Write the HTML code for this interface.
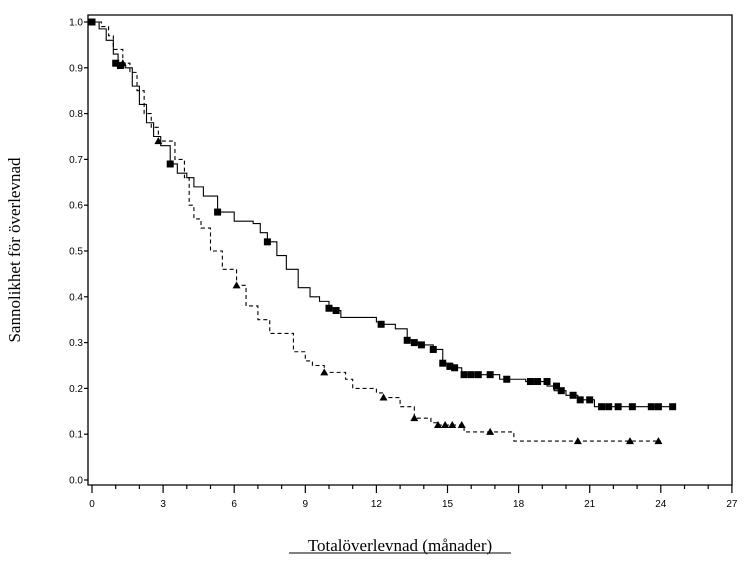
<!DOCTYPE html>
<html><head><meta charset="utf-8"><style>
body{margin:0;background:#fff}
</style></head><body>
<svg width="746" height="557" xmlns="http://www.w3.org/2000/svg" font-family="Liberation Sans, sans-serif">
<rect width="746" height="557" fill="#fff"/>
<g id="ax" stroke="#000" stroke-width="1.3" fill="none">
<path d="M88,15 H732 V485 H88 Z"/>
</g>
<g id="ticks" stroke="#000" stroke-width="1.2"></g>
<g id="lbl" font-size="10" fill="#000"></g>
<g id="curves"></g>
<text x="400" y="551" text-anchor="middle" font-family="Liberation Serif, serif" font-size="17">Totalöverlevnad (månader)</text>
<line x1="289" y1="553" x2="511" y2="553" stroke="#000" stroke-width="1"/>
<text transform="translate(20,250) rotate(-90)" text-anchor="middle" font-family="Liberation Serif, serif" font-size="17">Sannolikhet för överlevnad</text>
</svg>
<script>
var NS="http://www.w3.org/2000/svg";
function X(m){return 92+m*23.7}
function Y(p){return 480-p*458}
function el(t,a,parent){var e=document.createElementNS(NS,t);for(var k in a)e.setAttribute(k,a[k]);document.getElementById(parent).appendChild(e);return e}
for(var i=0;i<=10;i++){var y=Y(i/10);el('line',{x1:84,y1:y,x2:88,y2:y},'ticks');var t=el('text',{x:83,y:y+3.5,'text-anchor':'end'},'lbl');t.textContent=(i/10).toFixed(1);}
for(var m=0;m<=27;m++){var x=X(m);el('line',{x1:x,y1:485,x2:x,y2:m%3==0?493:489},'ticks');if(m%3==0){var t=el('text',{x:x,y:507,'text-anchor':'middle'},'lbl');t.textContent=m;}}
var solid=[[0,1],[0.3,.985],[0.6,.96],[0.9,.93],[1.1,.91],[1.4,.9],[1.7,.86],[2,.82],[2.3,.78],[2.6,.75],[2.9,.73],[3.3,.69],[3.6,.67],[4,.66],[4.3,.64],[4.7,.62],[5.3,.585],[6,.565],[6.8,.56],[7.1,.54],[7.4,.52],[7.8,.49],[8.2,.46],[8.7,.42],[9.2,.40],[9.6,.39],[10,.375],[10.3,.37],[10.5,.355],[12,.345],[12.2,.34],[12.8,.33],[13.3,.305],[13.6,.30],[13.9,.295],[14.4,.285],[14.8,.255],[15.2,.245],[15.6,.23],[17.2,.22],[18.3,.215],[19.2,.205],[19.5,.195],[20,.185],[20.5,.175],[21.2,.16],[24.5,.16]];
var dash=[[0,1],[0.4,.99],[0.7,.97],[0.9,.94],[1.3,.91],[1.6,.89],[1.9,.85],[2.2,.8],[2.5,.77],[2.8,.74],[3.5,.70],[3.9,.66],[4.1,.6],[4.3,.57],[4.6,.55],[5,.5],[5.5,.46],[6.1,.425],[6.5,.38],[7,.35],[7.5,.32],[8,.32],[8.5,.28],[9,.26],[9.3,.25],[9.8,.235],[10.7,.22],[11,.20],[12,.19],[12.3,.18],[13,.16],[13.6,.135],[14.3,.125],[14.6,.12],[15.7,.105],[17.8,.085],[24,.085]];
function path(d){var s='M'+X(d[0][0])+','+Y(d[0][1]);for(var i=1;i<d.length;i++){s+=' H'+X(d[i][0])+' V'+Y(d[i][1]);}return s}
el('path',{d:path(solid),fill:'none',stroke:'#000','stroke-width':1.1},'curves');
el('path',{d:path(dash),fill:'none',stroke:'#000','stroke-width':1.1,'stroke-dasharray':'4,3'},'curves');
var sq=[[0,1],[1,.91],[1.2,.905],[3.3,.69],[5.3,.585],[7.4,.52],[10,.375],[10.3,.37],[12.2,.34],[13.3,.305],[13.6,.30],[13.9,.295],[14.4,.285],[14.8,.255],[15.1,.248],[15.3,.245],[15.7,.23],[16,.23],[16.3,.23],[16.8,.23],[17.5,.22],[18.5,.215],[18.8,.215],[19.2,.215],[19.6,.205],[19.8,.195],[20.3,.185],[20.6,.175],[21,.175],[21.5,.16],[21.8,.16],[22.2,.16],[22.8,.16],[23.6,.16],[23.9,.16],[24.5,.16]];
sq.forEach(function(p){el('rect',{x:X(p[0])-3.5,y:Y(p[1])-3.5,width:7,height:7,fill:'#000'},'curves')});
var tr=[[1.3,.91],[2.8,.74],[6.1,.425],[9.8,.235],[12.3,.18],[13.6,.135],[14.6,.12],[14.9,.12],[15.2,.12],[15.6,.12],[16.8,.105],[20.5,.085],[22.7,.085],[23.9,.085]];
tr.forEach(function(p){var x=X(p[0]),y=Y(p[1]);el('polygon',{points:(x-4)+','+(y+3)+' '+(x+4)+','+(y+3)+' '+x+','+(y-4),fill:'#000'},'curves')});
</script>
</body></html>
